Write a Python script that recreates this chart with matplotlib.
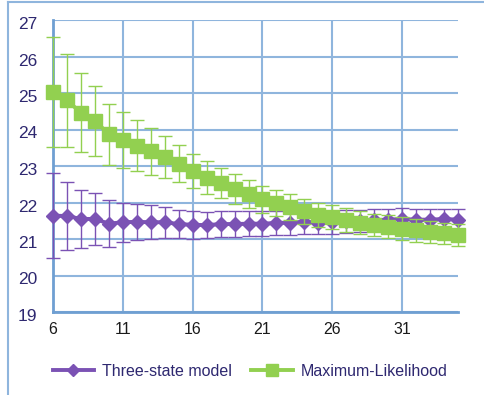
import matplotlib
matplotlib.use('Agg')
import matplotlib.pyplot as plt
import matplotlib.transforms as mtransforms
from matplotlib.lines import Line2D

plt.rcParams['font.family'] = ['Liberation Sans', 'DejaVu Sans']

# Data
x_vals = list(range(6, 36))

three_state = [21.64, 21.63, 21.55, 21.55, 21.42, 21.46, 21.47, 21.46, 21.46, 21.41,
               21.39, 21.38, 21.41, 21.41, 21.42, 21.42, 21.44, 21.45, 21.47, 21.45,
               21.46, 21.48, 21.50, 21.52, 21.53, 21.55, 21.53, 21.53, 21.55, 21.53]
three_state_err = [1.16, 0.93, 0.79, 0.71, 0.64, 0.54, 0.50, 0.47, 0.42, 0.39,
                   0.39, 0.35, 0.35, 0.35, 0.34, 0.34, 0.33, 0.33, 0.32, 0.32,
                   0.31, 0.31, 0.30, 0.30, 0.30, 0.29, 0.29, 0.28, 0.28, 0.28]

max_lik = [25.03, 24.80, 24.46, 24.24, 23.87, 23.71, 23.56, 23.40, 23.24, 23.06,
           22.87, 22.68, 22.53, 22.37, 22.24, 22.09, 21.98, 21.87, 21.76, 21.66,
           21.60, 21.52, 21.45, 21.39, 21.34, 21.28, 21.24, 21.19, 21.16, 21.12]
max_lik_err = [1.50, 1.27, 1.08, 0.96, 0.84, 0.77, 0.70, 0.65, 0.57, 0.51,
               0.47, 0.46, 0.41, 0.40, 0.39, 0.37, 0.36, 0.35, 0.34, 0.33,
               0.33, 0.33, 0.32, 0.30, 0.31, 0.31, 0.31, 0.30, 0.29, 0.30]

x_ticks = [6, 11, 16, 21, 26, 31]
y_ticks = [19, 20, 21, 22, 23, 24, 25, 26, 27]

purple = '#7b52b4'
green = '#92d050'
grid_col = '#8fb5dd'
spine_col = '#6f9fd2'
navy = '#2e2870'

fig = plt.figure(figsize=(4.85, 3.95), dpi=100)
ax = fig.add_axes([53 / 485, 1 - 312 / 395, 405 / 485, 292 / 395])

#Three-state model
ax.errorbar(x_vals, three_state, yerr=three_state_err, color=purple, ecolor=purple,
            elinewidth=1.0, capsize=5, capthick=1.0, lw=2.8, marker='D', ms=7,
            label='Three-state model', zorder=3, clip_on=False)
#Maximum likelihood
ax.errorbar(x_vals, max_lik, yerr=max_lik_err, color=green, ecolor=green,
            elinewidth=1.0, capsize=5, capthick=1.0, lw=2.8, marker='s', ms=9.5,
            label='Maximum-Likelihood', zorder=4, clip_on=False)

ax.set_xlim(6, 35)
ax.set_ylim(19, 27)
ax.set_xticks(x_ticks)
ax.set_yticks(y_ticks)
ax.tick_params(axis='y', length=0, pad=11.5, labelsize=12.5, labelcolor=navy)
ax.tick_params(axis='x', length=0, pad=7, labelsize=11.5, labelcolor='#1a1a1a')

# y labels sit a little below their gridlines in the original
shift = mtransforms.ScaledTranslation(0, -3 / 100, fig.dpi_scale_trans)
for lab in ax.get_yticklabels():
    lab.set_transform(lab.get_transform() + shift)

ax.grid(True, color=grid_col, lw=1.5)
ax.set_axisbelow(True)
for s in ['top', 'right']:
    ax.spines[s].set_visible(False)
for s in ['left', 'bottom']:
    ax.spines[s].set_color(spine_col)
    ax.spines[s].set_linewidth(2)

# legend with plain line handles
handles = [Line2D([], [], color=purple, lw=2.8, marker='D', ms=6),
           Line2D([], [], color=green, lw=2.8, marker='s', ms=8)]
leg = fig.legend(handles, ['Three-state model', 'Maximum-Likelihood'],
                 loc='center', bbox_to_anchor=(250 / 485, 1 - 371 / 395), ncol=2,
                 frameon=False, fontsize=11.5, handlelength=2.6, columnspacing=1.2,
                 handletextpad=0.5)
for t in leg.get_texts():
    t.set_color(navy)

# outer frame lines
fig.add_artist(Line2D([8 / 485, 8 / 485], [0, 1 - 1.5 / 395], color=grid_col, lw=1.5))
fig.add_artist(Line2D([8 / 485, 1], [1 - 1.5 / 395, 1 - 1.5 / 395], color=grid_col, lw=1.5))

plt.savefig('out.png', dpi=100)
